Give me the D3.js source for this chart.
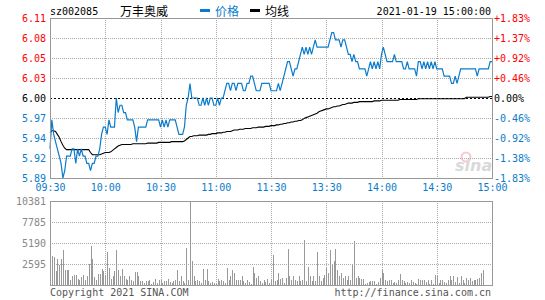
<!DOCTYPE html>
<html>
<head>
<meta charset="utf-8">
<script src="https://cdn.jsdelivr.net/npm/d3@7"></script>
<style>
  body { margin: 0; background: #fff; }
  text { font-family: "DejaVu Sans Mono", monospace; font-size: 10px; }
</style>
</head>
<body>
<script>
// sz002085 intraday, 2021-01-19
const stockCode = 'sz002085';
const stockName = '万丰奥威';
const stamp = '2021-01-19 15:00:00';
const prevClose = 6.00;

const priceTickLabels = ['6.11', '6.08', '6.05', '6.03', '6.00', '5.97', '5.94', '5.92', '5.89'];
const pctTickLabels = ['+1.83%', '+1.37%', '+0.92%', '+0.46%', '0.00%', '-0.46%', '-0.92%', '-1.38%', '-1.83%'];
const volTickLabels = ['10381', '7785', '5190', '2595'];
const timeLabels = ['09:30', '10:00', '10:30', '11:00', '11:30', '13:30', '14:00', '14:30', '15:00'];

// one value per minute, 09:30 .. 15:00 (241 points)
const price = [
  5.93, 5.97, 5.95, 5.94, 5.93, 5.92, 5.91, 5.89, 5.90, 5.92,
  5.92, 5.92, 5.93, 5.93, 5.91, 5.93, 5.92, 5.93, 5.92, 5.92,
  5.91, 5.91, 5.90, 5.91, 5.91, 5.92, 5.92, 5.93, 5.95, 5.96,
  5.96, 5.95, 5.97, 5.96, 5.96, 5.96, 6.00, 5.98, 5.99, 5.99,
  5.98, 5.98, 5.97, 5.97, 5.97, 5.97, 5.96, 5.94, 5.96, 5.96,
  5.96, 5.96, 5.96, 5.97, 5.97, 5.97, 5.97, 5.97, 5.97, 5.97,
  5.96, 5.97, 5.96, 5.97, 5.96, 5.97, 5.97, 5.97, 5.97, 5.96,
  5.95, 5.95, 5.95, 5.96, 5.99, 6.00, 6.02, 6.00, 6.00, 6.00,
  6.00, 5.99, 5.99, 6.00, 5.99, 6.00, 5.99, 6.00, 6.00, 5.99,
  5.99, 6.00, 5.99, 6.00, 6.00, 6.01, 6.02, 6.02, 6.01, 6.02,
  6.02, 6.01, 6.02, 6.02, 6.02, 6.01, 6.01, 6.02, 6.02, 6.03,
  6.03, 6.02, 6.01, 6.01, 6.01, 6.02, 6.02, 6.02, 6.02, 6.02,
  6.01, 6.01, 6.01, 6.01, 6.02, 6.01, 6.02, 6.03, 6.04, 6.05,
  6.05, 6.04, 6.03, 6.04, 6.04, 6.05, 6.06, 6.07, 6.06, 6.07,
  6.06, 6.07, 6.06, 6.07, 6.08, 6.07, 6.07, 6.07, 6.07, 6.07,
  6.07, 6.07, 6.08, 6.09, 6.09, 6.08, 6.08, 6.08, 6.07, 6.08,
  6.08, 6.07, 6.06, 6.06, 6.05, 6.06, 6.05, 6.05, 6.04, 6.04,
  6.04, 6.04, 6.03, 6.04, 6.05, 6.04, 6.05, 6.04, 6.05, 6.04,
  6.06, 6.07, 6.06, 6.05, 6.05, 6.05, 6.05, 6.06, 6.05, 6.05,
  6.05, 6.05, 6.04, 6.04, 6.05, 6.04, 6.04, 6.04, 6.04, 6.03,
  6.05, 6.05, 6.04, 6.05, 6.04, 6.05, 6.04, 6.05, 6.04, 6.05,
  6.04, 6.04, 6.04, 6.04, 6.03, 6.03, 6.03, 6.03, 6.02, 6.02,
  6.03, 6.02, 6.03, 6.04, 6.04, 6.04, 6.04, 6.04, 6.04, 6.04,
  6.04, 6.04, 6.03, 6.04, 6.04, 6.04, 6.04, 6.04, 6.04, 6.05,
  6.05
];

const avgPrice = [
  5.952, 5.955, 5.955, 5.954, 5.950, 5.946, 5.940, 5.935, 5.931, 5.929,
  5.929, 5.929, 5.929, 5.929, 5.929, 5.929, 5.929, 5.929, 5.929, 5.929,
  5.929, 5.929, 5.925, 5.922, 5.922, 5.922, 5.922, 5.922, 5.923, 5.924,
  5.925, 5.925, 5.925, 5.926, 5.928, 5.930, 5.932, 5.934, 5.935, 5.936,
  5.936, 5.936, 5.936, 5.936, 5.936, 5.937, 5.937, 5.937, 5.937, 5.937,
  5.937, 5.937, 5.937, 5.938, 5.938, 5.938, 5.938, 5.938, 5.938, 5.939,
  5.939, 5.939, 5.939, 5.939, 5.939, 5.939, 5.940, 5.940, 5.940, 5.940,
  5.940, 5.940, 5.940, 5.941, 5.943, 5.945, 5.947, 5.947, 5.948, 5.948,
  5.948, 5.949, 5.949, 5.949, 5.949, 5.949, 5.950, 5.950, 5.951, 5.951,
  5.951, 5.952, 5.952, 5.952, 5.953, 5.953, 5.954, 5.954, 5.954, 5.955,
  5.956, 5.956, 5.956, 5.957, 5.957, 5.957, 5.958, 5.958, 5.958, 5.958,
  5.959, 5.959, 5.959, 5.960, 5.960, 5.960, 5.960, 5.961, 5.961, 5.961,
  5.962, 5.962, 5.962, 5.963, 5.963, 5.964, 5.964, 5.965, 5.965, 5.966,
  5.966, 5.967, 5.967, 5.968, 5.968, 5.969, 5.969, 5.970, 5.972, 5.973,
  5.974, 5.975, 5.976, 5.977, 5.978, 5.979, 5.981, 5.982, 5.983, 5.984,
  5.985, 5.985, 5.986, 5.987, 5.988, 5.988, 5.989, 5.989, 5.990, 5.991,
  5.991, 5.992, 5.993, 5.993, 5.993, 5.994, 5.994, 5.994, 5.995, 5.995,
  5.995, 5.995, 5.995, 5.995, 5.995, 5.995, 5.996, 5.996, 5.996, 5.996,
  5.997, 5.997, 5.997, 5.997, 5.997, 5.997, 5.997, 5.997, 5.997, 5.997,
  5.998, 5.998, 5.998, 5.998, 5.998, 5.998, 5.998, 5.998, 5.998, 5.998,
  5.999, 5.999, 5.999, 5.999, 5.999, 5.999, 5.999, 5.999, 5.999, 5.999,
  5.999, 5.999, 5.999, 5.999, 5.999, 5.999, 5.999, 5.999, 5.999, 5.999,
  5.999, 5.999, 5.999, 5.999, 5.999, 5.999, 6.001, 6.001, 6.001, 6.001,
  6.001, 6.001, 6.001, 6.001, 6.001, 6.001, 6.001, 6.001, 6.001, 6.002,
  6.002
];

const volume = [
  2800, 3540, 3410, 1680, 3250, 2510, 3250, 4280, 1800, 1800,
  1890, 570, 1150, 1270, 1270, 740, 570, 980, 1270, 650,
  1070, 2630, 4860, 3250, 980, 650, 1350, 1400, 1970, 1770,
  1270, 4030, 2060, 740, 1070, 1680, 4370, 1890, 1070, 1970,
  1070, 740, 570, 1070, 570, 450, 1650, 1650, 1070, 450,
  450, 240, 450, 450, 650, 160, 410, 740, 240, 570,
  650, 240, 530, 530, 740, 410, 240, 450, 650, 1890,
  450, 1070, 530, 240, 4570, 650, 10381, 2920, 1070, 450,
  650, 530, 240, 1970, 570, 1970, 450, 240, 330, 240,
  160, 740, 450, 650, 450, 240, 2100, 650, 1070, 1890,
  1480, 650, 650, 650, 1150, 450, 240, 650, 330, 160,
  2220, 1480, 860, 1070, 450, 240, 650, 330, 740, 240,
  740, 3750, 450, 650, 1480, 740, 860, 240, 860, 4450,
  1070, 650, 1070, 650, 450, 1070, 450, 650, 5600, 450,
  2220, 1070, 450, 1070, 450, 4030, 1070, 450, 860, 1270,
  2100, 1480, 4370, 2510, 2920, 4450, 1890, 1070, 1480, 860,
  1070, 650, 1070, 650, 2510, 5390, 860, 1070, 860, 740,
  740, 160, 240, 330, 530, 450, 530, 160, 410, 860,
  1800, 1480, 650, 530, 650, 570, 240, 330, 240, 650,
  1400, 650, 450, 240, 330, 240, 650, 330, 240, 160,
  740, 650, 650, 650, 330, 650, 160, 650, 160, 1270,
  1150, 240, 650, 650, 330, 240, 650, 1070, 650, 1070,
  330, 980, 240, 1070, 650, 240, 860, 650, 860, 530,
  650, 650, 740, 860, 1480, 1890, 0, 0, 0, 0,
  0
];

const W = 545, H = 300;
const left = 50, right = 492;
const pTop = 18, pBottom = 178;
const vTop = 201, vBottom = 285;

const red = '#ff0000', blue = '#0a7ccb', gray = '#999';

const svg = d3.select('body').append('svg')
  .attr('width', W).attr('height', H);

const x = d3.scaleLinear().domain([0, 240]).range([left, right]);
const span = 0.11;
const y = d3.scaleLinear().domain([prevClose - span, prevClose + span]).range([pBottom, pTop]);
const yPct = d3.scaleLinear().domain([-span / prevClose * 100, span / prevClose * 100]).range([pBottom, pTop]);
const yVol = d3.scaleLinear().domain([0, 10381]).range([vBottom, vTop]);

const priceTicks = d3.range(9).map(k => prevClose + span - k * span / 4);
const volTicks = d3.range(4).map(k => 10381 - k * 10381 / 4);
const timeTicks = d3.range(9).map(k => k * 30);

function labelColor(i) { return i < 4 ? red : (i === 4 ? '#000' : blue); }

// grid, price panel
const grid = svg.append('g').attr('shape-rendering', 'crispEdges');
grid.selectAll('.hg').data(priceTicks.filter((d, i) => i > 0 && i < 8 && i !== 4))
  .enter().append('line')
  .attr('x1', left).attr('x2', right)
  .attr('y1', d => Math.round(y(d)) + 0.5).attr('y2', d => Math.round(y(d)) + 0.5)
  .attr('stroke', '#aaa').attr('stroke-dasharray', '1,1');
grid.selectAll('.vg').data(timeTicks.slice(1, 8))
  .enter().append('line')
  .attr('x1', d => Math.round(x(d)) + 0.5).attr('x2', d => Math.round(x(d)) + 0.5)
  .attr('y1', pTop).attr('y2', pBottom)
  .attr('stroke', '#aaa').attr('stroke-dasharray', '1,1');

// grid, volume panel
grid.selectAll('.vhg').data(volTicks.slice(1))
  .enter().append('line')
  .attr('x1', left).attr('x2', right)
  .attr('y1', d => Math.round(yVol(d)) + 0.5).attr('y2', d => Math.round(yVol(d)) + 0.5)
  .attr('stroke', '#aaa').attr('stroke-dasharray', '1,1');
grid.selectAll('.vvg').data(timeTicks.slice(1, 8))
  .enter().append('line')
  .attr('x1', d => Math.round(x(d)) + 0.5).attr('x2', d => Math.round(x(d)) + 0.5)
  .attr('y1', vTop).attr('y2', vBottom)
  .attr('stroke', '#aaa').attr('stroke-dasharray', '1,1');

// sina watermark
const wm = svg.append('g').attr('opacity', 0.55);
wm.append('circle').attr('cx', 466).attr('cy', 157).attr('r', 4.5)
  .attr('fill', 'none').attr('stroke', '#f2a0a8').attr('stroke-width', 2);
wm.append('text').attr('x', 455).attr('y', 171)
  .style('font-family', '"DejaVu Sans", sans-serif').style('font-size', '16px')
  .style('font-style', 'italic').style('font-weight', 'bold')
  .attr('fill', '#bbb').text('sina');

// prev close line
svg.append('line')
  .attr('x1', left).attr('x2', right)
  .attr('y1', Math.round(y(prevClose)) + 0.5).attr('y2', Math.round(y(prevClose)) + 0.5)
  .attr('stroke', '#000').attr('stroke-dasharray', '2,2')
  .attr('shape-rendering', 'crispEdges');

// volume bars
svg.append('g').attr('shape-rendering', 'crispEdges')
  .selectAll('line').data(volume).enter().append('line')
  .attr('x1', (d, i) => Math.round(x(i)) + 0.5).attr('x2', (d, i) => Math.round(x(i)) + 0.5)
  .attr('y1', vBottom).attr('y2', d => yVol(d))
  .attr('stroke', gray);

// average line, price line
svg.append('path').datum(avgPrice)
  .attr('d', d3.line().x((d, i) => x(i)).y(d => y(d)))
  .attr('fill', 'none').attr('stroke', '#000').attr('stroke-width', 1.1);
svg.append('path').datum(price)
  .attr('d', d3.line().x((d, i) => x(i)).y(d => y(d)))
  .attr('fill', 'none').attr('stroke', blue).attr('stroke-width', 1.2);

// panel borders
svg.append('rect').attr('x', left + 0.5).attr('y', pTop + 0.5)
  .attr('width', right - left).attr('height', pBottom - pTop)
  .attr('fill', 'none').attr('stroke', gray).attr('shape-rendering', 'crispEdges');
svg.append('rect').attr('x', left + 0.5).attr('y', vTop + 0.5)
  .attr('width', right - left).attr('height', vBottom - vTop)
  .attr('fill', 'none').attr('stroke', gray).attr('shape-rendering', 'crispEdges');

// axes
const axL = svg.append('g').attr('transform', `translate(${left},0)`)
  .call(d3.axisLeft(y).tickValues(priceTicks).tickSize(0).tickPadding(4)
    .tickFormat((d, i) => priceTickLabels[i]));
axL.select('.domain').remove();
axL.selectAll('text').attr('fill', (d, i) => labelColor(i))
  .style('font-family', '"DejaVu Sans Mono", monospace').style('font-size', '10px');

const pctTicks = priceTicks.map(p => (p - prevClose) / prevClose * 100);
const axR = svg.append('g').attr('transform', `translate(${right},0)`)
  .call(d3.axisRight(yPct).tickValues(pctTicks).tickSize(0).tickPadding(2)
    .tickFormat((d, i) => pctTickLabels[i]));
axR.select('.domain').remove();
axR.selectAll('text').attr('fill', (d, i) => labelColor(i))
  .style('font-family', '"DejaVu Sans Mono", monospace').style('font-size', '10px');

const axT = svg.append('g').attr('transform', `translate(0,${pBottom})`)
  .call(d3.axisBottom(x).tickValues(timeTicks).tickSize(0).tickPadding(6)
    .tickFormat((d, i) => timeLabels[i]));
axT.select('.domain').remove();
axT.selectAll('text').attr('fill', blue)
  .style('font-family', '"DejaVu Sans Mono", monospace').style('font-size', '10px');

const axV = svg.append('g').attr('transform', `translate(${left},0)`)
  .call(d3.axisLeft(yVol).tickValues(volTicks).tickSize(0).tickPadding(4)
    .tickFormat((d, i) => volTickLabels[i]));
axV.select('.domain').remove();
axV.selectAll('text').attr('fill', '#888')
  .style('font-family', '"DejaVu Sans Mono", monospace').style('font-size', '10px');

// header
svg.append('text').attr('x', 50).attr('y', 15).attr('fill', '#000').text(stockCode);
svg.append('text').attr('x', 120).attr('y', 16)
  .style('font-family', '"Noto Sans CJK SC", sans-serif').style('font-size', '12px')
  .attr('fill', '#000').text(stockName);
svg.append('rect').attr('x', 200).attr('y', 9).attr('width', 10).attr('height', 3).attr('fill', blue);
svg.append('text').attr('x', 215).attr('y', 16)
  .style('font-family', '"Noto Sans CJK SC", sans-serif').style('font-size', '12px')
  .attr('fill', blue).text('价格');
svg.append('rect').attr('x', 250).attr('y', 9).attr('width', 10).attr('height', 3).attr('fill', '#000');
svg.append('text').attr('x', 265).attr('y', 16)
  .style('font-family', '"Noto Sans CJK SC", sans-serif').style('font-size', '12px')
  .attr('fill', '#000').text('均线');
svg.append('text').attr('x', 491).attr('y', 15).attr('text-anchor', 'end')
  .attr('fill', '#000').text(stamp);

// footer
svg.append('text').attr('x', 50).attr('y', 296).attr('fill', '#555').text('Copyright 2021 SINA.COM');
svg.append('text').attr('x', 491).attr('y', 296).attr('text-anchor', 'end')
  .attr('fill', '#555').text('http://finance.sina.com.cn');
</script>
</body>
</html>
